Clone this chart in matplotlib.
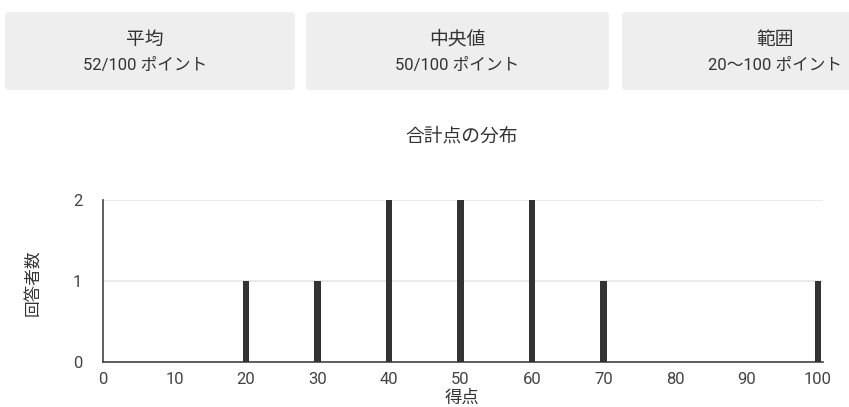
import matplotlib
matplotlib.use("Agg")
import matplotlib.pyplot as plt
from matplotlib.patches import FancyBboxPatch

plt.rcParams['font.family'] = ['Roboto', 'Noto Sans CJK JP', 'DejaVu Sans']

# Summary cards
card_titles = ["平均", "中央値", "範囲"]
card_values = ["52/100 ポイント", "50/100 ポイント", "20〜100 ポイント"]

# Score distribution
scores = [20, 30, 40, 50, 60, 70, 100]
counts = [1, 1, 2, 2, 2, 1, 1]
x_ticks = [0, 10, 20, 30, 40, 50, 60, 70, 80, 90, 100]
y_ticks = [0, 1, 2]

W, H = 849, 407
fig = plt.figure(figsize=(W / 100, H / 100), dpi=100)
fig.patch.set_facecolor("white")

# Card row drawn in pixel coordinates on an overlay axes
card_ax = fig.add_axes([0, 0, 1, 1])
card_ax.set_xlim(0, W)
card_ax.set_ylim(H, 0)
card_ax.axis("off")
card_boxes = [(5, 295), (306, 609), (622, 960)]
text_centers = [145, 457, 775]
for (x0, x1), cx, t, v in zip(card_boxes, text_centers, card_titles, card_values):
    card_ax.add_patch(FancyBboxPatch((x0 + 4, 16), x1 - x0 - 8, 70,
                                     boxstyle="round,pad=4,rounding_size=4",
                                     facecolor="#eeeeee", edgecolor="none"))
    card_ax.text(cx, 40, t, ha="center", va="center", fontsize=13.5, color="#333333")
    card_ax.text(cx, 65, v, ha="center", va="center", fontsize=12, color="#333333")

# Histogram-like bar chart
left, right = 103 / W, 823 / W
bottom, top = 1 - 362 / H, 1 - 200 / H
ax = fig.add_axes([left, bottom, right - left, top - bottom])
ax.bar(scores, counts, width=0.85, color="#333333", zorder=3)
ax.set_xlim(0, 100.7)
ax.set_ylim(0, 2)
ax.set_xticks(x_ticks)
ax.set_yticks(y_ticks)
ax.grid(axis="y", color="#e6e6e6", linewidth=1.2, zorder=0)
for s in ["top", "right"]:
    ax.spines[s].set_visible(False)
ax.spines["left"].set_color("#444444")
ax.spines["bottom"].set_color("#444444")
ax.spines["left"].set_linewidth(1.2)
ax.spines["bottom"].set_linewidth(1.2)
ax.tick_params(axis="both", length=0, labelsize=12, colors="#444444", pad=7)
ax.tick_params(axis="y", pad=15)

fig.text(462 / W, 1 - 136 / H, "合計点の分布", ha="center", va="center",
         fontsize=13.5, color="#333333")
fig.text(462 / W, 1 - 398 / H, "得点", ha="center", va="center",
         fontsize=12.5, color="#333333")
fig.text(33 / W, 1 - 283 / H, "回答者数", ha="center", va="center",
         rotation=90, fontsize=12, color="#333333")

fig.savefig("out.png", dpi=100, facecolor="white")
